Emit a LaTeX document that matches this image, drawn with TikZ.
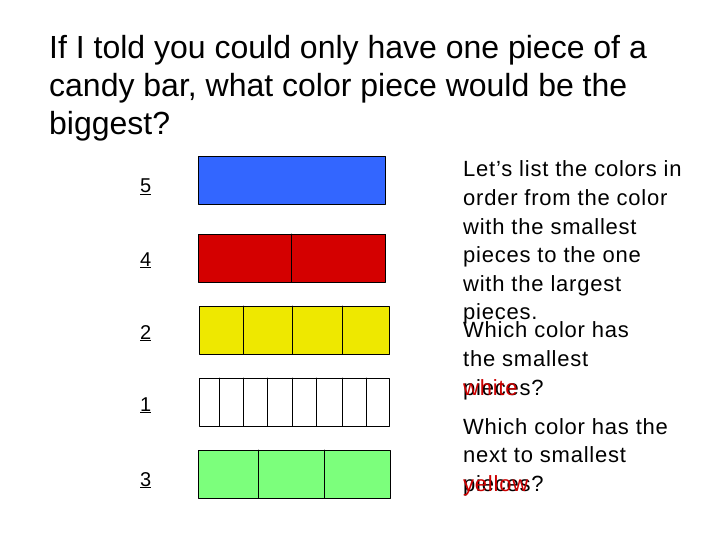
\documentclass[tikz,border=0pt]{standalone}
\usepackage{fontspec}
\setmainfont{Liberation Sans}
\newfontfamily\spacedfont[LetterSpace=3.5]{Liberation Sans}

\definecolor{barblue}{RGB}{51,102,255}
\definecolor{barred}{RGB}{212,0,0}
\definecolor{baryellow}{RGB}{238,232,0}
\definecolor{bargreen}{RGB}{124,255,124}
\definecolor{answerred}{RGB}{204,0,0}

\begin{document}
\begin{tikzpicture}[line cap=round,line join=round,x=1pt,y=-1pt,
  bar/.style={draw=black,line width=0.8pt},
  num/.style={anchor=base west,inner sep=0pt,font=\fontsize{20}{24}\selectfont},
  title/.style={anchor=base west,inner sep=0pt,font=\fontsize{32}{38}\selectfont},
  txt/.style={anchor=base west,inner sep=0pt,font=\spacedfont\fontsize{22}{28}\selectfont},
  ans/.style={txt,text=answerred}]

\useasboundingbox (0,0) rectangle (720,540);

\node[title] (title1) at (49,59) {If I told you could only have one piece of a};
\node[title] (title2) at (49,97) {candy bar, what color piece would be the};
\node[title] (title3) at (49,135) {biggest?};

\draw [bar,fill=barblue] (198,156) rectangle (385.5,204);
\draw [bar,fill=barred] (198,234) rectangle (385.5,282);
\draw [bar] (291,234) -- (291,282);
\draw [bar,fill=baryellow] (199,306) rectangle (389,354);
\foreach \x in {243,292,342}
  \draw [bar] (\x,306) -- (\x,354);
\draw [bar,fill=white] (199,378) rectangle (389,426);
\foreach \x in {219,243,267,292,316.5,342,366}
  \draw [bar] (\x,378) -- (\x,426);
\draw [bar,fill=bargreen] (198,450) rectangle (390,498);
\foreach \x in {258,324}
  \draw [bar] (\x,450) -- (\x,498);

\node[num] (five) at (140,193) {\underline{5}};
\node[num] (four) at (140,266) {\underline{4}};
\node[num] (two) at (140,339) {\underline{2}};
\node[num] (one) at (140,411) {\underline{1}};
\node[num] (three) at (140,486) {\underline{3}};

\node[txt] (list1) at (463,177) {Let’s list the colors in};
\node[txt] (list2) at (463,205.5) {order from the color};
\node[txt] (list3) at (463,234) {with the smallest};
\node[txt] (list4) at (463,262.5) {pieces to the one};
\node[txt] (list5) at (463,291) {with the largest};
\node[txt] (list6) at (463,319.5) {pieces.};

\node[txt] (askA1) at (463,337.5) {Which color has};
\node[txt] (askA2) at (463,366) {the smallest};
\node[txt] (askA3) at (463,395) {pieces?};
\node[ans] (white) at (463,395) {white};

\node[txt] (askB1) at (463,434) {Which color has the};
\node[txt] (askB2) at (463,462.5) {next to smallest};
\node[txt] (askB3) at (463,491) {pieces?};
\node[ans] (yellow) at (463,491) {yellow};
\end{tikzpicture}
\end{document}
